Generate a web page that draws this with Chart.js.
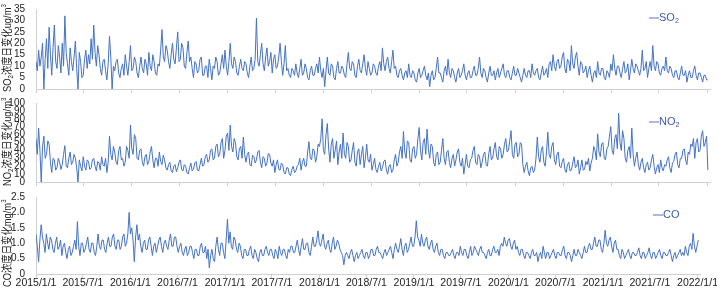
<!DOCTYPE html>
<html>
<head>
<meta charset="utf-8">
<script src="https://cdn.jsdelivr.net/npm/chart.js@4.4.1/dist/chart.umd.min.js"></script>
<style>
body { margin: 0; background: #fff; }
#wrap { position: relative; width: 717px; height: 288px; overflow: hidden; }
canvas { position: absolute; left: 0; }
</style>
</head>
<body>
<div id="wrap">
  <canvas id="so2Chart" width="717" height="98" style="top:0"></canvas>
  <canvas id="no2Chart" width="717" height="97" style="top:94px"></canvas>
  <canvas id="coChart" width="717" height="100" style="top:188px"></canvas>
</div>
<script>
// one value every 5 days starting 2015/1/1
const STEP_DAYS = 5;

const xTickLabels = ['2015/1/1', '2015/7/1', '2016/1/1', '2016/7/1', '2017/1/1', '2017/7/1', '2018/1/1',
    '2018/7/1', '2019/1/1', '2019/7/1', '2020/1/1', '2020/7/1', '2021/1/1', '2021/7/1', '2022/1/1'];

const so2 = [
    12, 8, 17, 10, 14, 20, 0, 13, 22, 9, 27, 15, 6, 18, 28, 12, 9, 19, 14, 7,
    20, 10, 32, 16, 11, 6, 18, 12, 8, 14, 21, 9, 0, 16, 12, 5, 6, 13, 17, 9,
    15, 11, 22, 13, 28, 16, 10, 19, 15, 9, 6, 12, 13, 8, 4, 11, 23, 14, 0, 10,
    8, 12, 13, 7, 5, 9, 11, 6, 15, 10, 6, 12, 19, 8, 9, 14, 12, 7, 5, 10,
    14, 9, 7, 13, 11, 6, 16, 10, 8, 15, 12, 7, 6, 11, 10, 17, 26, 14, 12, 19,
    17, 12, 9, 15, 20, 13, 11, 18, 25, 12, 13, 20, 18, 10, 9, 16, 21, 12, 14, 9,
    5, 12, 11, 7, 8, 13, 14, 6, 6, 10, 10, 5, 13, 9, 4, 10, 9, 14, 12, 6,
    7, 11, 15, 9, 17, 10, 6, 12, 20, 11, 9, 14, 12, 7, 6, 10, 13, 9, 8, 12,
    11, 7, 5, 10, 14, 8, 9, 13, 31, 12, 10, 15, 20, 11, 8, 14, 18, 10, 12, 16,
    7, 13, 15, 9, 10, 14, 20, 12, 6, 11, 19, 8, 9, 6, 5, 9, 8, 6, 11, 7,
    5, 9, 13, 6, 7, 11, 9, 5, 4, 8, 10, 6, 6, 9, 11, 7, 14, 8, 5, 9,
    1, 8, 14, 7, 6, 11, 10, 5, 4, 9, 12, 7, 7, 10, 9, 6, 5, 11, 16, 9,
    8, 12, 11, 6, 5, 10, 13, 8, 7, 11, 15, 9, 6, 12, 9, 6, 7, 11, 10, 7,
    6, 10, 12, 8, 18, 11, 8, 12, 14, 9, 7, 12, 17, 9, 10, 6, 5, 8, 9, 6,
    4, 7, 8, 5, 11, 6, 5, 8, 7, 4, 3, 7, 9, 5, 6, 8, 10, 6, 4, 7,
    1, 6, 8, 4, 5, 9, 14, 7, 7, 5, 3, 8, 10, 6, 13, 7, 5, 9, 8, 5,
    3, 7, 9, 5, 6, 8, 11, 6, 4, 7, 8, 5, 5, 8, 10, 6, 6, 9, 14, 7,
    5, 9, 8, 5, 3, 7, 10, 6, 6, 8, 4, 7, 9, 5, 7, 9, 11, 6, 5, 8,
    8, 5, 4, 7, 10, 6, 6, 9, 7, 5, 3, 6, 9, 6, 5, 8, 8, 5, 11, 7,
    6, 8, 9, 5, 4, 7, 10, 6, 7, 9, 5, 11, 12, 8, 15, 10, 8, 12, 13, 9,
    10, 14, 16, 9, 7, 13, 12, 8, 19, 11, 9, 14, 16, 10, 6, 12, 11, 7, 8, 10,
    5, 8, 10, 6, 3, 7, 8, 5, 12, 7, 6, 9, 9, 5, 4, 8, 7, 5, 11, 8,
    15, 9, 6, 10, 10, 7, 5, 9, 12, 7, 8, 11, 4, 8, 13, 9, 7, 11, 10, 8,
    6, 9, 17, 8, 9, 12, 5, 9, 12, 8, 19, 10, 8, 12, 11, 7, 6, 9, 10, 8,
    14, 8, 7, 10, 9, 6, 5, 8, 8, 5, 4, 7, 10, 6, 6, 8, 3, 6, 8, 5,
    5, 8, 10, 6, 4, 7, 7, 5, 3, 6, 6, 4, 4
];

const no2 = [
    55, 35, 68, 40, 0, 45, 58, 30, 35, 52, 48, 25, 12, 30, 28, 15, 18, 30, 25, 16,
    22, 35, 46, 20, 18, 30, 38, 22, 25, 35, 30, 18, 0, 28, 20, 14, 32, 20, 15, 28,
    26, 16, 18, 28, 30, 20, 14, 26, 24, 15, 32, 22, 20, 30, 12, 25, 58, 35, 28, 45,
    38, 25, 22, 40, 45, 28, 30, 20, 25, 45, 40, 30, 72, 42, 35, 60, 55, 30, 28, 40,
    42, 25, 20, 32, 35, 22, 26, 38, 45, 28, 18, 30, 30, 20, 38, 26, 22, 34, 28, 18,
    15, 22, 25, 14, 12, 20, 22, 13, 18, 25, 28, 16, 14, 22, 20, 12, 10, 18, 24, 14,
    16, 24, 26, 15, 14, 22, 30, 20, 22, 32, 35, 25, 28, 40, 42, 28, 30, 45, 48, 32,
    35, 50, 55, 30, 40, 58, 62, 40, 72, 45, 38, 55, 50, 32, 28, 42, 45, 30, 57, 35,
    25, 35, 38, 22, 20, 34, 32, 24, 28, 38, 40, 25, 18, 32, 30, 20, 24, 36, 35, 24,
    20, 28, 12, 22, 28, 16, 15, 24, 22, 12, 10, 18, 18, 10, 8, 16, 20, 12, 14, 20,
    22, 30, 15, 25, 30, 20, 20, 38, 51, 30, 28, 42, 40, 25, 32, 48, 45, 55, 80, 40,
    35, 60, 74, 42, 25, 48, 55, 30, 40, 52, 22, 38, 48, 30, 62, 35, 30, 50, 45, 25,
    28, 40, 50, 25, 20, 38, 42, 22, 35, 45, 18, 30, 48, 28, 25, 35, 15, 22, 30, 16,
    12, 20, 25, 14, 18, 26, 28, 15, 10, 20, 22, 12, 15, 28, 35, 20, 25, 38, 45, 30,
    64, 38, 30, 52, 50, 28, 25, 42, 45, 30, 35, 55, 69, 40, 28, 50, 55, 35, 67, 42,
    30, 48, 45, 25, 20, 35, 38, 22, 25, 40, 55, 30, 22, 38, 40, 25, 18, 30, 35, 20,
    28, 38, 42, 25, 20, 30, 10, 22, 35, 20, 18, 28, 30, 40, 45, 25, 22, 35, 32, 18,
    25, 35, 38, 22, 20, 36, 45, 28, 30, 42, 50, 32, 28, 45, 42, 30, 35, 48, 55, 38,
    40, 52, 65, 35, 30, 48, 50, 32, 35, 50, 48, 22, 12, 20, 25, 14, 8, 18, 20, 12,
    15, 30, 57, 32, 25, 40, 45, 25, 20, 38, 63, 35, 30, 45, 50, 28, 22, 35, 38, 20,
    18, 26, 30, 16, 12, 22, 25, 14, 15, 24, 32, 18, 20, 28, 10, 18, 28, 15, 16, 26,
    22, 30, 14, 24, 30, 45, 40, 28, 61, 38, 32, 48, 50, 30, 28, 42, 45, 58, 70, 40,
    35, 55, 60, 42, 87, 50, 40, 65, 55, 30, 25, 40, 45, 30, 68, 35, 20, 30, 38, 22,
    15, 25, 30, 18, 12, 22, 25, 15, 18, 28, 35, 20, 10, 18, 22, 12, 28, 18, 14, 22,
    20, 28, 32, 18, 12, 24, 26, 35, 38, 22, 18, 30, 30, 40, 42, 28, 22, 38, 35, 48,
    45, 55, 30, 50, 55, 38, 40, 58, 65, 45, 50, 58, 15
];

const co = [
    1.3, 0.9, 0.4, 1.1, 1.6, 1.2, 1.0, 0.7, 1.3, 1.0, 0.8, 1.2, 1.1, 0.8, 0.7, 1.0, 1.2, 0.8, 0.9, 1.1,
    0.6, 0.9, 1.0, 0.7, 0.5, 0.8, 0.9, 0.6, 0.7, 0.9, 1.1, 0.8, 1.7, 0.9, 0.6, 1.0, 1.0, 0.7, 0.8, 1.0,
    1.2, 0.8, 0.7, 1.0, 1.0, 0.7, 0.6, 0.9, 1.3, 0.9, 0.8, 1.1, 1.1, 0.8, 0.7, 1.0, 1.2, 0.9, 0.9, 1.2,
    1.3, 0.9, 0.8, 1.1, 1.1, 0.8, 0.9, 1.2, 1.3, 0.9, 1.0, 1.3, 2.0, 1.3, 1.5, 1.1, 0.4, 1.2, 1.6, 1.1,
    1.3, 0.9, 0.7, 1.0, 1.1, 0.8, 0.8, 1.1, 1.2, 0.9, 0.6, 0.9, 1.0, 0.7, 0.9, 1.1, 1.2, 0.9, 0.7, 1.0,
    1.1, 0.9, 0.8, 1.1, 1.3, 0.9, 0.9, 1.2, 1.2, 0.9, 0.7, 0.9, 1.0, 0.7, 0.6, 0.8, 0.9, 0.6, 0.7, 0.9,
    0.9, 0.7, 0.5, 0.8, 0.8, 0.6, 0.6, 0.9, 1.0, 0.7, 0.7, 0.9, 0.5, 0.8, 0.2, 0.6, 0.8, 0.5, 0.4, 0.9,
    1.2, 0.8, 0.6, 1.0, 1.0, 0.7, 0.5, 1.1, 1.78, 1.0, 1.37, 0.9, 0.8, 1.2, 1.1, 0.8, 0.7, 1.0, 0.9, 0.6,
    0.5, 0.8, 0.8, 0.6, 0.6, 0.8, 0.9, 0.6, 0.5, 0.8, 0.7, 0.5, 0.4, 0.7, 0.8, 0.6, 0.6, 0.8, 0.9, 0.7,
    0.6, 0.8, 0.8, 0.6, 0.5, 0.8, 0.7, 0.5, 0.9, 0.7, 0.6, 0.8, 0.8, 0.6, 0.5, 0.8, 0.7, 0.9, 0.9, 0.7,
    0.7, 0.9, 1.1, 0.8, 0.6, 0.9, 1.15, 0.8, 0.8, 1.0, 1.0, 0.7, 0.6, 0.9, 1.2, 0.9, 0.9, 1.1, 1.4, 1.0,
    0.9, 1.1, 1.3, 0.9, 0.8, 1.0, 1.1, 0.8, 0.7, 1.0, 1.2, 0.8, 0.9, 1.1, 1.0, 0.8, 0.7, 0.6, 0.3, 0.6,
    0.7, 0.6, 0.5, 0.7, 0.8, 0.6, 0.4, 0.6, 0.7, 0.5, 0.6, 0.7, 0.8, 0.6, 0.5, 0.7, 0.7, 0.5, 0.6, 0.8,
    0.8, 0.6, 0.6, 0.8, 0.9, 0.7, 0.7, 0.6, 0.5, 0.7, 0.8, 0.6, 0.7, 0.8, 0.9, 0.7, 0.5, 0.8, 1.0, 0.8,
    0.7, 0.9, 1.15, 0.8, 0.6, 0.9, 1.0, 0.7, 0.8, 1.0, 1.2, 0.9, 0.9, 1.2, 1.73, 1.2, 1.1, 0.9, 1.3, 1.0,
    0.9, 1.1, 1.2, 0.9, 0.8, 1.0, 1.1, 0.8, 0.7, 0.9, 1.0, 0.7, 0.6, 0.8, 0.8, 0.6, 0.5, 0.7, 0.7, 0.6,
    0.6, 0.7, 0.8, 0.6, 0.5, 0.7, 0.7, 0.6, 0.9, 0.7, 0.6, 0.8, 0.8, 0.6, 0.5, 0.7, 0.9, 0.6, 0.7, 0.9,
    0.8, 0.7, 0.6, 0.8, 0.9, 0.7, 0.7, 0.6, 0.5, 0.7, 0.8, 0.6, 0.6, 0.8, 0.9, 0.7, 0.7, 0.8, 0.6, 0.9,
    1.0, 0.9, 1.2, 1.0, 0.9, 1.1, 1.15, 0.9, 0.8, 1.0, 1.1, 0.8, 0.9, 0.7, 0.6, 0.8, 0.8, 0.6, 0.5, 0.7,
    0.7, 0.6, 0.5, 0.7, 0.8, 0.6, 0.6, 0.7, 0.4, 0.6, 0.7, 0.5, 0.9, 0.7, 0.5, 0.7, 0.7, 0.5, 0.6, 0.7,
    0.8, 0.6, 0.5, 0.7, 0.7, 0.6, 0.6, 0.8, 0.9, 0.6, 0.5, 0.7, 0.7, 0.6, 0.4, 0.6, 0.8, 0.6, 0.6, 0.8,
    0.7, 0.6, 0.5, 0.7, 0.9, 0.7, 0.7, 0.9, 1.0, 0.8, 0.8, 1.0, 1.2, 0.9, 0.9, 1.1, 1.1, 0.8, 0.7, 1.0,
    1.42, 1.0, 0.9, 1.1, 1.2, 0.9, 0.7, 1.0, 1.1, 0.8, 0.8, 0.6, 0.5, 0.8, 0.7, 0.5, 0.6, 0.7, 0.8, 0.6,
    0.5, 0.7, 0.7, 0.6, 0.6, 0.7, 0.85, 0.6, 0.5, 0.7, 0.7, 0.5, 0.6, 0.7, 0.85, 0.6, 0.5, 0.7, 0.7, 0.5,
    0.6, 0.7, 0.8, 0.6, 0.5, 0.7, 0.7, 0.6, 0.6, 0.7, 0.8, 0.6, 0.4, 0.6, 0.7, 0.5, 0.6, 0.7, 0.8, 0.6,
    0.7, 0.6, 0.9, 0.7, 0.6, 0.9, 1.0, 0.8, 1.32, 0.9, 0.7, 0.9, 1.1
];

const LINE_COLOR = '#4472c4';
const AXIS_COLOR = '#d0d0d0';
const TEXT_COLOR = '#222';
const FONT = "'Liberation Sans', Arial, 'Noto Sans CJK SC', sans-serif";
const X_MAX = 2568;

// day offset of each tick label from 2015/1/1
const startUtc = Date.UTC(2015, 0, 1);
const tickDays = xTickLabels.map(s => {
    const [y, m, d] = s.split('/').map(Number);
    return Math.round((Date.UTC(y, m - 1, d) - startUtc) / 86400000);
});

function drawRich(ctx, parts, x, y, size) {
    let cx = x;
    parts.forEach(p => {
        const small = p.sub || p.sup;
        ctx.font = (small ? size * 0.65 : size) + 'px ' + FONT;
        const dy = p.sub ? size * 0.3 : (p.sup ? -size * 0.35 : 0);
        ctx.fillText(p.t, cx, y + dy);
        cx += ctx.measureText(p.t).width;
    });
}

// axis title and legend with sub/superscripts
const sideLabels = {
    id: 'sideLabels',
    afterDraw(chart, args, opts) {
        const ctx = chart.ctx;
        ctx.save();
        ctx.textBaseline = 'middle';
        ctx.textAlign = 'left';
        ctx.fillStyle = TEXT_COLOR;
        ctx.save();
        ctx.translate(opts.titleX, opts.titleY);
        ctx.rotate(-Math.PI / 2);
        ctx.scale(0.85, 1);
        drawRich(ctx, opts.title, 0, 0, 11);
        ctx.restore();

        ctx.strokeStyle = '#8fa0dc';
        ctx.lineWidth = 1.5;
        ctx.beginPath();
        ctx.moveTo(opts.legendX, opts.legendY);
        ctx.lineTo(opts.legendX + 10, opts.legendY);
        ctx.stroke();
        ctx.fillStyle = '#3c5ca8';
        drawRich(ctx, opts.legend, opts.legendX + 10, opts.legendY, 11);
        ctx.restore();
    }
};

function makeChart(id, values, yMax, yStep, showX, xHeight, side) {
    return new Chart(document.getElementById(id), {
        type: 'line',
        data: {
            datasets: [{
                data: values.map((v, i) => ({ x: i * STEP_DAYS, y: v })),
                borderColor: LINE_COLOR,
                borderWidth: 1,
                pointRadius: 0,
                tension: 0
            }]
        },
        options: {
            responsive: false,
            animation: false,
            devicePixelRatio: 1,
            layout: { padding: { top: 5, right: 7, left: 0, bottom: 0 } },
            plugins: {
                legend: { display: false },
                tooltip: { enabled: false },
                sideLabels: side
            },
            scales: {
                x: {
                    type: 'linear',
                    min: 0,
                    max: X_MAX,
                    afterBuildTicks: ax => { ax.ticks = tickDays.map(v => ({ value: v })); },
                    afterFit: ax => { ax.height = xHeight; },
                    grid: { display: true, drawOnChartArea: false, drawTicks: true, tickLength: 4, color: AXIS_COLOR },
                    border: { display: true, color: AXIS_COLOR },
                    ticks: {
                        display: showX,
                        autoSkip: false,
                        maxRotation: 0,
                        padding: -1,
                        color: TEXT_COLOR,
                        font: { family: FONT, size: 10.5 },
                        callback: (v, i) => xTickLabels[i]
                    }
                },
                y: {
                    min: 0,
                    max: yMax,
                    afterFit: ax => { ax.width = 36; },
                    grid: { display: false },
                    border: { display: true, color: AXIS_COLOR },
                    ticks: { stepSize: yStep, autoSkip: false, padding: 3, color: TEXT_COLOR, font: { family: FONT, size: 10 } }
                }
            }
        },
        plugins: [sideLabels]
    });
}

makeChart('so2Chart', so2, 35, 5, false, 5, {
    titleX: 8, titleY: 92,
    title: [{ t: 'SO' }, { t: '2', sub: true }, { t: '浓度日变化ug/m' }, { t: '3', sup: true }],
    legendX: 649, legendY: 18,
    legend: [{ t: 'SO' }, { t: '2', sub: true }]
});
makeChart('no2Chart', no2, 100, 10, false, 5, {
    titleX: 8, titleY: 92,
    title: [{ t: 'NO' }, { t: '2', sub: true }, { t: '浓度日变化ug/m' }, { t: '3', sup: true }],
    legendX: 649, legendY: 28,
    legend: [{ t: 'NO' }, { t: '2', sub: true }]
});
makeChart('coChart', co, 2.5, 0.5, true, 14, {
    titleX: 8, titleY: 99,
    title: [{ t: 'CO浓度日变化mg/m' }, { t: '3', sup: true }],
    legendX: 653, legendY: 27,
    legend: [{ t: 'CO' }]
});
</script>
</body>
</html>
